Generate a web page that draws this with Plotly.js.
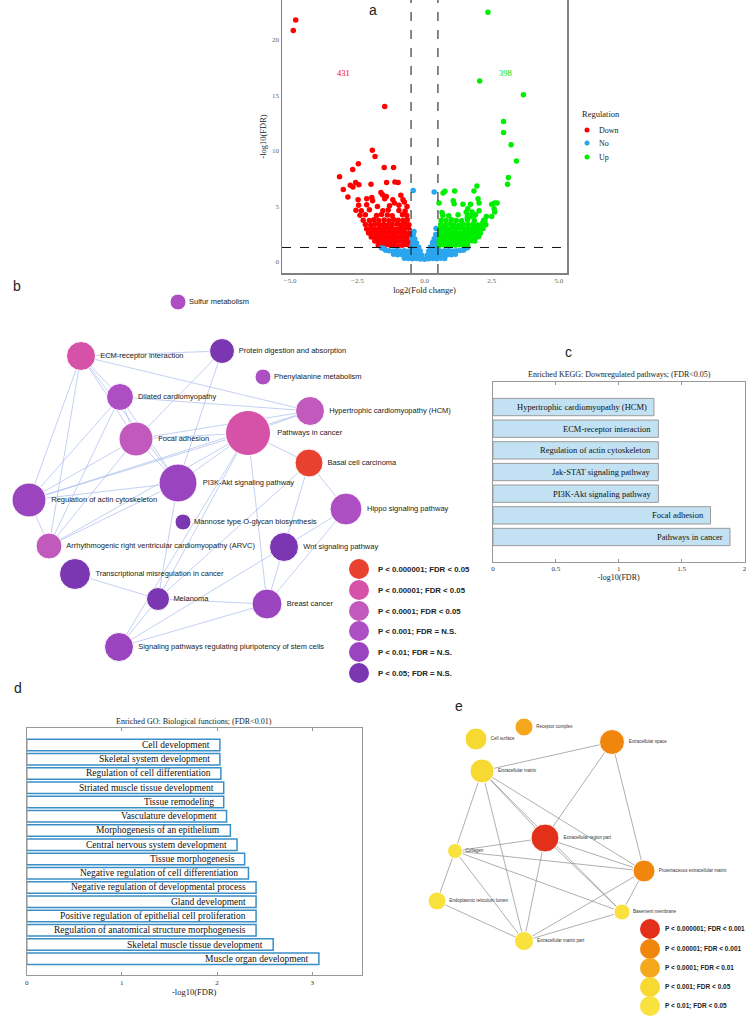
<!DOCTYPE html>
<html><head><meta charset="utf-8">
<script src="https://cdn.plot.ly/plotly-3.0.1.min.js"></script>
<style>html,body{margin:0;padding:0;background:#fff}</style>
</head><body><div id="chart" style="width:746px;height:1017px"></div>
<script>
// ================= DATA =================
// Panel a: volcano (log2 fold change, -log10 FDR)
const downX = [
 -1.72,-1.57,-1.42,-1.27,-1.12,-0.97,-0.82,-0.67,-0.55,
 -1.85,-1.70,-1.55,-1.40,-1.25,-1.10,-0.95,-0.80,-0.65,-0.55,
 -1.98,-1.83,-1.68,-1.53,-1.38,-1.23,-1.08,-0.93,-0.78,-0.63,
 -2.08,-1.93,-1.78,-1.63,-1.48,-1.33,-1.18,-1.03,-0.88,-0.73,-0.58,
 -2.15,-1.98,-1.82,-1.66,-1.50,-1.35,-1.20,-1.05,-0.90,-0.75,-0.60,
 -2.20,-2.00,-1.85,-1.68,-1.52,-1.37,-1.20,-1.03,-0.88,-0.72,-0.58,
 -2.28,-2.05,-1.88,-1.70,-1.50,-1.32,-1.15,-0.98,-0.80,-0.64,
 -2.40,-2.20,-1.78,-1.60,-1.38,-1.20,-0.82,-0.66,
 -2.55,-2.35,-2.05,-1.55,-1.35,-0.95,-0.72,
 -4.79,-4.88,-1.48,-1.94,-1.84,-2.46,-2.67,-1.50,-1.15,-3.16,-3.02,-2.56,-2.76,-2.66,-2.44,-1.99,-1.41,-1.10,-0.98,
 -2.85,-2.47,-2.15,-1.96,-1.93,-1.62,-1.56,-1.48,-1.42,-1.18,-1.12,-0.88,-0.80,-0.75,-2.45,-2.15,-1.75,-1.30,-0.95,-0.65];
const downY = [
 1.52,1.47,1.55,1.49,1.53,1.46,1.51,1.56,1.48,
 1.88,1.85,1.92,1.84,1.90,1.86,1.91,1.83,1.89,1.95,
 2.25,2.20,2.28,2.22,2.26,2.19,2.27,2.21,2.24,2.30,
 2.60,2.64,2.57,2.63,2.59,2.66,2.58,2.62,2.65,2.60,2.56,
 2.97,3.02,2.95,3.00,2.96,3.03,2.98,2.94,3.01,2.99,3.04,
 3.36,3.32,3.40,3.34,3.38,3.31,3.37,3.42,3.33,3.39,3.35,
 3.76,3.72,3.80,3.74,3.78,3.70,3.82,3.75,3.73,3.79,
 4.20,4.25,4.18,4.28,4.22,4.15,4.26,4.19,
 4.66,4.60,4.70,4.62,4.68,4.64,4.58,
 21.8,20.85,14.0,10.05,9.5,8.85,8.33,8.5,8.5,7.67,6.53,7.16,6.9,6.75,6.95,7.0,7.16,7.2,7.15,
 5.84,5.6,5.7,5.8,5.5,6.26,6.05,5.7,5.9,5.6,5.3,6.0,5.6,5.4,5.1,5.15,5.0,5.05,5.1,5.0];
const noX = [
 -0.75,-0.60,-0.45,-0.30,-0.15,0.00,0.15,0.30,0.45,0.60,0.75,
 -1.15,-1.00,-0.85,-0.70,-0.55,-0.40,-0.25,-0.10,0.10,0.25,0.40,0.55,0.70,0.85,1.00,1.15,
 -1.45,-1.32,-1.18,-1.04,-0.90,-0.75,-0.60,-0.45,-0.30,-0.16,0.16,0.30,0.45,0.60,0.75,0.90,1.04,1.18,1.32,1.45,
 -1.60,-1.52,1.52,1.60,
 -0.48,-0.36,-0.22,0.22,0.36,0.48,
 -0.43,-0.30,0.30,0.43,
 -0.47,-0.36,0.36,0.47,
 -0.42,0.42,-0.39,0.43,
 -0.42,0.36];
const noY = [
 0.32,0.30,0.28,0.31,0.27,0.25,0.29,0.30,0.28,0.32,0.30,
 0.68,0.64,0.66,0.63,0.67,0.65,0.62,0.60,0.61,0.64,0.66,0.63,0.67,0.65,0.64,0.68,
 1.05,1.00,0.98,1.02,0.99,1.01,0.97,1.00,1.03,0.98,0.99,1.02,1.00,0.98,1.01,1.03,0.99,1.00,1.02,1.06,
 1.25,1.22,1.24,1.27,
 1.36,1.34,1.33,1.35,1.37,1.34,
 1.72,1.70,1.74,1.71,
 2.10,2.06,2.08,2.11,
 2.45,2.48,2.75,3.00,
 6.44,6.30];
const upX = [
 0.55,0.70,0.85,1.00,1.15,1.30,1.45,1.60,
 0.55,0.70,0.85,1.00,1.15,1.30,1.45,1.60,1.75,1.87,
 0.56,0.71,0.86,1.01,1.16,1.31,1.46,1.61,1.76,1.91,2.02,
 0.58,0.73,0.88,1.03,1.18,1.33,1.48,1.63,1.78,1.93,2.08,
 0.57,0.72,0.87,1.02,1.17,1.32,1.47,1.62,1.77,1.92,2.07,2.18,
 0.60,0.78,0.95,1.10,1.28,1.45,1.62,1.80,1.98,2.15,2.28,
 0.62,0.80,1.00,1.18,1.38,1.60,1.85,2.20,
 0.68,0.90,1.25,1.60,1.75,1.90,2.30,
 2.36,2.05,3.68,2.94,2.94,3.22,3.42,3.12,3.09,1.95,1.84,1.12,0.76,0.69,1.99,2.03,1.07,0.54,1.43,1.71,1.61,1.77,
 1.10,0.65,2.50,2.61,2.70,2.59,2.61,2.50,2.25,2.17,1.84,1.70,1.59,1.55,2.03];
const upY = [
 1.50,1.54,1.47,1.52,1.49,1.55,1.48,1.51,
 1.86,1.90,1.84,1.89,1.85,1.92,1.87,1.83,1.90,1.88,
 2.23,2.27,2.20,2.25,2.22,2.28,2.21,2.26,2.24,2.19,2.30,
 2.62,2.58,2.65,2.60,2.63,2.57,2.64,2.59,2.61,2.66,2.60,
 2.98,3.02,2.95,3.00,2.97,3.04,2.96,3.01,2.99,3.03,2.97,3.00,
 3.36,3.33,3.40,3.35,3.31,3.38,3.34,3.39,3.32,3.37,3.35,
 3.76,3.72,3.80,3.74,3.70,3.78,3.73,3.75,
 4.20,4.15,4.25,4.18,4.22,4.24,4.10,
 22.5,16.3,15.07,12.66,11.67,10.56,9.09,7.61,7.0,6.83,6.4,6.4,6.37,6.2,5.7,5.3,5.5,5.3,5.2,5.2,4.8,4.5,
 5.25,4.45,5.2,5.3,5.3,4.8,4.5,4.1,3.7,3.55,4.15,4.1,3.95,4.5,4.6];
const downCount = 431, upCount = 398;
const fcCut = 0.5, fdrCut = 1.3;

// Panel b: KEGG pathway network (name, significance class 0..5)
const bNames = ["Sulfur metabolism","ECM-receptor interaction","Protein digestion and absorption","Phenylalanine metabolism",
 "Dilated cardiomyopathy","Hypertrophic cardiomyopathy (HCM)","Pathways in cancer","Focal adhesion","Basal cell carcinoma",
 "PI3K-Akt signaling pathway","Regulation of actin cytoskeleton","Hippo signaling pathway","Mannose type O-glycan biosynthesis",
 "Arrhythmogenic right ventricular cardiomyopathy (ARVC)","Wnt signaling pathway","Transcriptional misregulation in cancer",
 "Melanoma","Breast cancer","Signaling pathways regulating pluripotency of stem cells"];
const bClass = [3,1,5,3,3,2,1,2,0,4,4,3,5,2,5,5,5,4,4];
const bEdges = [[1,2],[1,5],[1,4],[1,7],[1,9],[1,10],[1,13],[2,7],[2,9],[4,5],[4,7],[4,9],[4,10],[4,13],
 [7,6],[7,9],[7,10],[7,13],[7,5],[6,5],[6,10],[6,9],[6,8],[6,17],[6,16],[6,13],[6,18],[5,10],[9,10],[9,13],[9,16],
 [8,14],[8,11],[8,16],[11,14],[11,17],[14,17],[14,18],[16,17],[16,15],[16,18],[17,18],[10,13]];
const bLegend = ["P < 0.000001; FDR < 0.05","P < 0.00001; FDR < 0.05","P < 0.0001; FDR < 0.05",
 "P < 0.001; FDR = N.S.","P < 0.01; FDR = N.S.","P < 0.05; FDR = N.S."];

// Panel c: KEGG downregulated pathways
const keggTerms = ["Hypertrophic cardiomyopathy (HCM)","ECM-receptor interaction","Regulation of actin cytoskeleton",
 "Jak-STAT signaling pathway","PI3K-Akt signaling pathway","Focal adhesion","Pathways in cancer"];
const keggVals = [1.28,1.315,1.315,1.315,1.315,1.73,1.885];

// Panel d: GO biological functions
const goTerms = ["Cell development","Skeletal system development","Regulation of cell differentiation",
 "Striated muscle tissue development","Tissue remodeling","Vasculature development","Morphogenesis of an epithelium",
 "Central nervous system development","Tissue morphogenesis","Negative regulation of cell differentiation",
 "Negative regulation of developmental process","Gland development","Positive regulation of epithelial cell proliferation",
 "Regulation of anatomical structure morphogenesis","Skeletal muscle tissue development","Muscle organ development"];
const goVals = [2.03,2.03,2.04,2.07,2.07,2.10,2.14,2.21,2.29,2.33,2.41,2.41,2.41,2.41,2.59,3.07];

// Panel e: GO cellular component network
const eNames = ["Receptor complex","Cell surface","Extracellular space","Extracellular matrix","Extracellular region part",
 "Collagen","Proteinaceous extracellular matrix","Endoplasmic reticulum lumen","Basement membrane","Extracellular matrix part"];
const eClass = [2,3,1,3,0,4,1,4,4,4];
const eEdges = [[3,2],[3,4],[3,6],[3,8],[3,5],[3,9],[2,4],[2,6],[4,5],[4,6],[4,8],[4,9],[5,6],[5,8],[5,7],[5,9],[7,9],[6,9],[6,8],[8,9]];
const eLegend = ["P < 0.000001; FDR < 0.001","P < 0.00001; FDR < 0.001","P < 0.0001; FDR < 0.01",
 "P < 0.001; FDR < 0.05","P < 0.01; FDR < 0.05"];

// ================= LAYOUT / STYLE =================
const W = 746, H = 1017;
const SERIF = "Liberation Serif, Times New Roman, serif";
const SANS = "Liberation Sans, Arial, sans-serif";
const bColors = ["#e8412f","#d651a8","#c25abd","#ad4fc3","#9a44c0","#7a37b1"];
const eColors = ["#e3301a","#f0860c","#f6a81c","#f8d932","#f9e13e"];
// node layout (pixels) for the two networks
const bPosX = [178,81,222,263,120,310,248,136,309,178,29,346,183,49,284,75,158,267,119];
const bPosY = [302,356,351,377,397,411,433,439,463,483,500,509,522,546,547,574,599,604,647];
const bSize = [16,29,25,16,27,29,45,34,28,38,34,32,16,26,29,31,23,30,29];
const ePosX = [524,476,612,482,545,455,644,437,622,524];
const ePosY = [727,739,742,771,838,851,871,901,912,941];
const eSize = [18,22,25,24,28,15,22,18,16,19];

function edgeXY(edges, px, py){
  const x=[], y=[];
  edges.forEach(([a,b])=>{ x.push(px[a],px[b],null); y.push(py[a],py[b],null); });
  return {x,y};
}
const bE = edgeXY(bEdges,bPosX,bPosY);
const eE = edgeXY(eEdges,ePosX,ePosY);

const px2 = {xaxis:'x2', yaxis:'y2', hoverinfo:'skip', showlegend:false, cliponaxis:false};
const traces = [
  {type:'scatter', mode:'markers', x:downX, y:downY, name:'Down', marker:{color:'#ff0000', size:5.5, opacity:1}, hoverinfo:'skip', showlegend:false},
  {type:'scatter', mode:'markers', x:noX, y:noY, name:'No', marker:{color:'#2aa5ee', size:5.5, opacity:1}, hoverinfo:'skip', showlegend:false},
  {type:'scatter', mode:'markers', x:upX, y:upY, name:'Up', marker:{color:'#00ee00', size:5.5, opacity:1}, hoverinfo:'skip', showlegend:false},
  Object.assign({type:'scatter', mode:'lines', x:bE.x, y:bE.y, line:{color:'#a9bcec', width:0.7}}, px2),
  Object.assign({type:'scatter', mode:'markers+text', x:bPosX, y:bPosY, text:bNames, textposition:'middle right',
    textfont:{family:SANS, size:7.5, color:'#222'}, marker:{size:bSize, opacity:1, color:bClass.map(c=>bColors[c])}}, px2),
  Object.assign({type:'scatter', mode:'lines', x:eE.x, y:eE.y, line:{color:'#8c8c8c', width:0.7}}, px2),
  Object.assign({type:'scatter', mode:'markers+text', x:ePosX, y:ePosY, text:eNames, textposition:'middle right',
    textfont:{family:SANS, size:4.5, color:'#333'}, marker:{size:eSize, opacity:1, color:eClass.map(c=>eColors[c])}}, px2),
  // legends of the networks and volcano
  Object.assign({type:'scatter', mode:'markers', x:bLegend.map(()=>359), y:[569,590,611,631,652,673],
    marker:{size:20, opacity:1, color:bColors}}, px2),
  Object.assign({type:'scatter', mode:'markers', x:eLegend.map(()=>650), y:[929,949,968,987,1006],
    marker:{size:20, opacity:1, color:eColors}}, px2),
  Object.assign({type:'scatter', mode:'markers', x:[587,587,587], y:[130,143,157],
    marker:{size:5, opacity:1, color:['#ff0000','#2aa5ee','#00ee00']}}, px2),
  {type:'bar', orientation:'h', x:keggVals, y:keggTerms, xaxis:'x3', yaxis:'y3', width:0.8,
    marker:{color:'#c2e2f4', line:{color:'#9a9a9a', width:1}}, hoverinfo:'skip', showlegend:false},
  {type:'bar', orientation:'h', x:goVals, y:goTerms, xaxis:'x4', yaxis:'y4', width:0.8,
    marker:{color:'#ffffff', line:{color:'#3a8fc6', width:1.5}}, hoverinfo:'skip', showlegend:false}
];

const ann = [];
const A = (o)=>ann.push(Object.assign({showarrow:false}, o));
// panel letters
[['a',373,10],['b',17,286],['c',568,352],['d',18,688],['e',459,706]].forEach(([t,x,y])=>
  A({text:t, xref:'x2', yref:'y2', x:x, y:y, font:{family:SANS, size:14, color:'#222'}}));
// volcano counts
A({text:String(downCount), xref:'x', yref:'y', x:-3.0, y:17, font:{family:SERIF, size:8.5, color:'#ff0000'}});
A({text:String(upCount), xref:'x', yref:'y', x:3.0, y:17, font:{family:SERIF, size:8.5, color:'#00dd00'}});
// volcano legend
A({text:'Regulation', xref:'x2', yref:'y2', x:580, y:114, xanchor:'left', font:{family:SERIF, size:8.5, color:'#222'}});
['Down','No','Up'].forEach((t,i)=>A({text:t, xref:'x2', yref:'y2', x:597, y:[130,143,157][i], xanchor:'left',
  font:{family:SERIF, size:8, color:'#222'}}));
// network legends
bLegend.forEach((t,i)=>A({text:'<b>'+t+'</b>', xref:'x2', yref:'y2', x:376, y:[569,590,611,631,652,673][i], xanchor:'left',
  font:{family:SANS, size:7.8, color:'#222'}}));
eLegend.forEach((t,i)=>A({text:'<b>'+t+'</b>', xref:'x2', yref:'y2', x:663, y:[929,949,968,987,1006][i], xanchor:'left',
  font:{family:SANS, size:6.5, color:'#222'}}));
// bar chart titles
A({text:'Enriched KEGG: Downregulated pathways; (FDR<0.05)', xref:'x2', yref:'y2', x:619, y:374,
  font:{family:SERIF, size:8, color:'#222'}});
A({text:'Enriched GO: Biological functions; (FDR<0.01)', xref:'x2', yref:'y2', x:194, y:721,
  font:{family:SERIF, size:8, color:'#222'}});
// bar labels
keggTerms.forEach((t,i)=>A({text:t, xref:'x3', yref:'y3', x:keggVals[i], y:t, xanchor:'right', xshift:-5,
  font:{family:SERIF, size:8.5, color:'#111'}}));
goTerms.forEach((t,i)=>A({text:t, xref:'x4', yref:'y4', x:goVals[i], y:t, xanchor:'right', xshift:-8,
  font:{family:SERIF, size:9.5, color:'#111'}}));

const dash = {color:'#111', width:1, dash:'dash'};
const shapes = [
  {type:'line', xref:'x', yref:'y domain', x0:-fcCut, x1:-fcCut, y0:0, y1:1, line:dash},
  {type:'line', xref:'x', yref:'y domain', x0:fcCut, x1:fcCut, y0:0, y1:1, line:dash},
  {type:'line', xref:'x domain', yref:'y', x0:0, x1:1, y0:fdrCut, y1:fdrCut, line:dash}
];

const barAxisX = {showline:true, mirror:'ticks', linecolor:'#999', linewidth:1, ticks:'inside', ticklen:3, tickcolor:'#999',
  showgrid:false, zeroline:false, ticklabeloverflow:'allow', tickfont:{family:SERIF, size:7, color:'#333'}};
const barAxisY = {type:'category', showline:true, mirror:true, linecolor:'#999', linewidth:1, ticks:'',
  showticklabels:false, showgrid:false, zeroline:false};
const volAxis = {showline:true, mirror:true, linecolor:'#808080', linewidth:1.5, ticks:'', showgrid:false, zeroline:false,
  tickfont:{family:SERIF, size:7, color:'#666'}};

const layout = {
  width:W, height:H, margin:{l:0,r:0,t:0,b:0}, paper_bgcolor:'#fff', plot_bgcolor:'rgba(0,0,0,0)',
  showlegend:false, font:{family:SERIF},
  xaxis:Object.assign({}, volAxis, {domain:[282/W, 567/W], range:[-5.3,5.3], tickvals:[-5,-2.5,0,2.5,5], tickformat:'.1f',
    title:{text:'log2(Fold change)', font:{family:SERIF, size:8.5, color:'#222'}, standoff:2}}),
  yaxis:Object.assign({}, volAxis, {domain:[1-273/H, 1], range:[-1,23.6], tickvals:[0,5,10,15,20],
    title:{text:'-log10(FDR)', font:{family:SERIF, size:8.5, color:'#222'}, standoff:4}}),
  xaxis2:{domain:[0,1], range:[0,W], visible:false, fixedrange:true},
  yaxis2:{domain:[0,1], range:[H,0], visible:false, fixedrange:true},
  xaxis3:Object.assign({}, barAxisX, {domain:[493/W, 744.5/W], range:[0,2], tickvals:[0,0.5,1,1.5,2],
    title:{text:'-log10(FDR)', font:{family:SERIF, size:8, color:'#222'}, standoff:2}}),
  yaxis3:Object.assign({}, barAxisY, {anchor:'x3', domain:[1-561.7/H, 1-381.7/H], categoryarray:keggTerms,
    categoryorder:'array', range:[keggTerms.length-1+1.14, -1.17]}),
  xaxis4:Object.assign({}, barAxisX, {anchor:'y4', domain:[26.7/W, 361.7/W], range:[0,3.52], tickvals:[0,1,2,3],
    title:{text:'-log10(FDR)', font:{family:SERIF, size:8.5, color:'#222'}, standoff:2}}),
  yaxis4:Object.assign({}, barAxisY, {anchor:'x4', domain:[1-975.3/H, 1-727.7/H], categoryarray:goTerms,
    categoryorder:'array', range:[goTerms.length-1+1.16, -1.21]}),
  annotations:ann, shapes:shapes
};
layout.xaxis3.anchor = 'y3';
layout.xaxis2.anchor = 'y2'; layout.yaxis2.anchor = 'x2';

Plotly.newPlot('chart', traces, layout, {staticPlot:true, displayModeBar:false});
</script></body></html>
